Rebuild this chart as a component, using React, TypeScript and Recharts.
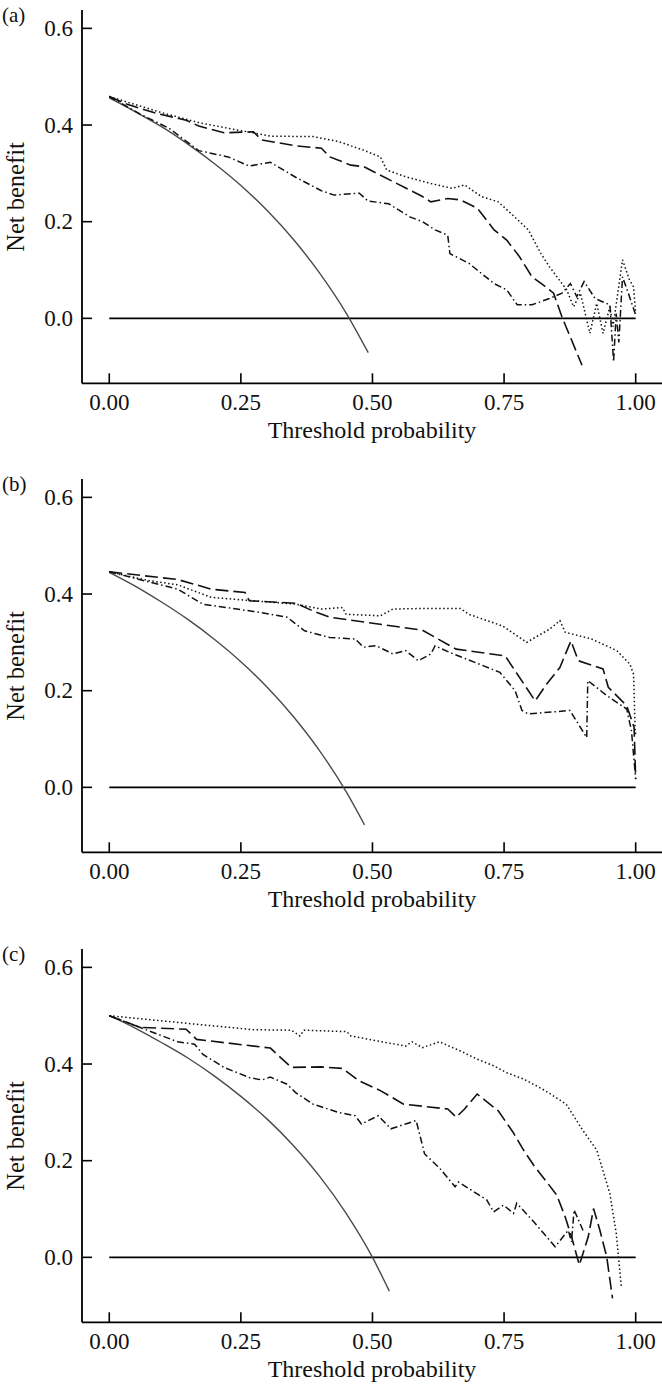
import React from 'react';
import { LineChart, Line, XAxis, YAxis } from 'recharts';

type Pt = [number, number];

const FONT = '"Liberation Serif", "Times New Roman", serif';
const W = 662;
const H = 469;
const PANEL_TOPS = [0, 469, 939];
const X_TICKS = [0, 0.25, 0.5, 0.75, 1];
const Y_TICKS = [0, 0.2, 0.4, 0.6];
const PANEL_LABELS = ['(a)', '(b)', '(c)'];

// treat none, shared by every panel
const treatNone: Pt[] = [[0, 0], [1, 0]];

// panel (a)
const aTreatAll: Pt[] = [
  [0, 0.456], [0.05, 0.427], [0.1, 0.396], [0.15, 0.36], [0.2, 0.32], [0.25, 0.275],
  [0.3, 0.223], [0.35, 0.163], [0.4, 0.093], [0.45, 0.011], [0.492, -0.071],
];
const aDashed: Pt[] = [
  [0, 0.459], [0.034, 0.443], [0.09, 0.424], [0.146, 0.41], [0.17, 0.398], [0.218, 0.384],
  [0.274, 0.386], [0.29, 0.369], [0.354, 0.357], [0.403, 0.352], [0.419, 0.334], [0.459, 0.317],
  [0.483, 0.314], [0.539, 0.283], [0.595, 0.252], [0.611, 0.241], [0.643, 0.248], [0.667, 0.245],
  [0.699, 0.228], [0.731, 0.183], [0.755, 0.162], [0.779, 0.128], [0.803, 0.086], [0.828, 0.066],
  [0.844, 0.052], [0.86, 0.003], [0.898, -0.097],
];
const aDotted: Pt[] = [
  [0, 0.459], [0.098, 0.426], [0.17, 0.405], [0.242, 0.39], [0.306, 0.377], [0.387, 0.376],
  [0.435, 0.366], [0.483, 0.348], [0.515, 0.334], [0.527, 0.307], [0.563, 0.293], [0.611, 0.279],
  [0.651, 0.269], [0.675, 0.276], [0.707, 0.252], [0.739, 0.241], [0.763, 0.217], [0.796, 0.183],
  [0.82, 0.134], [0.836, 0.107], [0.86, 0.072], [0.869, 0.059], [0.882, 0.024], [0.895, 0.052],
  [0.913, -0.031], [0.926, 0.031], [0.938, -0.031], [0.951, 0.024], [0.957, -0.017], [0.975, 0.121],
  [0.988, 0.08], [0.996, 0.065], [1, 0.01],
];
const aDashDot: Pt[] = [
  [0, 0.459], [0.058, 0.423], [0.114, 0.393], [0.17, 0.347], [0.226, 0.334], [0.266, 0.315],
  [0.306, 0.323], [0.354, 0.292], [0.403, 0.264], [0.427, 0.255], [0.475, 0.259], [0.491, 0.243],
  [0.531, 0.237], [0.571, 0.21], [0.595, 0.2], [0.619, 0.183], [0.643, 0.172], [0.647, 0.134],
  [0.683, 0.114], [0.699, 0.1], [0.731, 0.072], [0.755, 0.059], [0.775, 0.028], [0.803, 0.028],
  [0.836, 0.041], [0.86, 0.052], [0.876, 0.072], [0.888, 0.045], [0.902, 0.076], [0.923, 0.041],
  [0.951, 0.028], [0.958, -0.09], [0.963, 0.01], [0.968, -0.05], [0.975, 0.086], [0.986, 0.052],
  [1, 0.007],
];

// panel (b)
const bTreatAll: Pt[] = [
  [0, 0.445], [0.05, 0.416], [0.1, 0.383], [0.15, 0.347], [0.2, 0.306], [0.25, 0.26],
  [0.3, 0.207], [0.35, 0.146], [0.4, 0.075], [0.45, -0.009], [0.485, -0.078],
];
const bDashed: Pt[] = [
  [0, 0.446], [0.13, 0.43], [0.194, 0.41], [0.258, 0.403], [0.266, 0.386], [0.354, 0.381],
  [0.387, 0.365], [0.419, 0.352], [0.595, 0.325], [0.659, 0.286], [0.752, 0.272], [0.771, 0.241],
  [0.809, 0.179], [0.831, 0.214], [0.856, 0.248], [0.877, 0.303], [0.891, 0.262], [0.938, 0.245],
  [0.948, 0.207], [0.983, 0.169], [0.997, 0.124], [1, 0.017],
];
const bDotted: Pt[] = [
  [0, 0.446], [0.074, 0.428], [0.13, 0.419], [0.194, 0.393], [0.274, 0.386], [0.354, 0.379],
  [0.403, 0.369], [0.443, 0.372], [0.45, 0.358], [0.515, 0.355], [0.539, 0.369], [0.595, 0.37],
  [0.667, 0.37], [0.683, 0.358], [0.747, 0.334], [0.793, 0.3], [0.836, 0.327], [0.856, 0.345],
  [0.866, 0.321], [0.916, 0.307], [0.964, 0.283], [0.989, 0.255], [0.996, 0.234], [0.999, 0.117],
  [1, 0.11],
];
const bDashDot: Pt[] = [
  [0, 0.446], [0.13, 0.41], [0.178, 0.379], [0.274, 0.364], [0.338, 0.352], [0.371, 0.324],
  [0.419, 0.31], [0.467, 0.307], [0.483, 0.29], [0.507, 0.293], [0.539, 0.276], [0.563, 0.283],
  [0.587, 0.262], [0.611, 0.276], [0.619, 0.293], [0.647, 0.279], [0.742, 0.238], [0.771, 0.2],
  [0.784, 0.159], [0.796, 0.152], [0.875, 0.159], [0.907, 0.103], [0.909, 0.221], [0.945, 0.19],
  [0.983, 0.162], [0.992, 0.117], [1, 0.017],
];

// panel (c)
const cTreatAll: Pt[] = [
  [0, 0.5], [0.05, 0.474], [0.1, 0.444], [0.15, 0.412], [0.2, 0.375], [0.25, 0.333],
  [0.3, 0.286], [0.35, 0.231], [0.4, 0.167], [0.45, 0.091], [0.5, 0], [0.532, -0.07],
];
const cDashed: Pt[] = [
  [0, 0.5], [0.058, 0.476], [0.146, 0.472], [0.166, 0.451], [0.306, 0.433], [0.346, 0.393],
  [0.403, 0.394], [0.443, 0.391], [0.475, 0.365], [0.515, 0.345], [0.559, 0.317], [0.643, 0.307],
  [0.659, 0.29], [0.675, 0.307], [0.699, 0.338], [0.739, 0.303], [0.767, 0.259], [0.787, 0.222],
  [0.806, 0.191], [0.831, 0.156], [0.85, 0.129], [0.866, 0.084], [0.878, 0.043], [0.893, -0.016],
  [0.897, -0.002], [0.91, 0.043], [0.92, 0.101], [0.932, 0.056], [0.945, 0.001], [0.956, -0.085],
];
const cDotted: Pt[] = [
  [0, 0.5], [0.178, 0.481], [0.274, 0.471], [0.346, 0.47], [0.362, 0.458], [0.37, 0.47],
  [0.451, 0.467], [0.459, 0.458], [0.563, 0.437], [0.575, 0.446], [0.595, 0.434], [0.627, 0.446],
  [0.667, 0.427], [0.699, 0.41], [0.731, 0.396], [0.755, 0.382], [0.787, 0.369], [0.828, 0.345],
  [0.868, 0.317], [0.9, 0.262], [0.926, 0.222], [0.951, 0.132], [0.963, 0.05], [0.973, -0.064],
];
const cDashDot: Pt[] = [
  [0, 0.5], [0.13, 0.446], [0.162, 0.441], [0.178, 0.42], [0.218, 0.393], [0.266, 0.372],
  [0.29, 0.367], [0.306, 0.373], [0.338, 0.358], [0.354, 0.341], [0.387, 0.317], [0.435, 0.3],
  [0.467, 0.293], [0.479, 0.276], [0.511, 0.293], [0.535, 0.266], [0.563, 0.276], [0.583, 0.283],
  [0.599, 0.214], [0.628, 0.184], [0.657, 0.146], [0.663, 0.156], [0.717, 0.119], [0.73, 0.094],
  [0.749, 0.108], [0.768, 0.091], [0.774, 0.112], [0.806, 0.074], [0.847, 0.022], [0.872, 0.056],
  [0.878, 0.032], [0.883, 0.098], [0.901, 0.053],
];

const rows = (pts: Pt[]) => pts.map(([x, y]) => ({ x, y }));

function XTick(props: any) {
  const { x, y, payload } = props;
  return (
    <g>
      <line x1={x} x2={x} y1={y} y2={y - 10} stroke="#000" strokeWidth={1.6} />
      <text x={x} y={y + 27} textAnchor="middle" fontFamily={FONT} fontSize={23} fill="#111">
        {Number(payload.value).toFixed(2)}
      </text>
    </g>
  );
}

function YTick(props: any) {
  const { x, y, payload } = props;
  return (
    <g>
      <line x1={x} x2={x + 10} y1={y} y2={y} stroke="#000" strokeWidth={1.6} />
      <text x={x - 9} y={y + 7.5} textAnchor="end" fontFamily={FONT} fontSize={23} fill="#111">
        {Number(payload.value).toFixed(1)}
      </text>
    </g>
  );
}

interface PanelProps {
  label: string;
  top: number;
  treatAll: Pt[];
  dashed: Pt[];
  dotted: Pt[];
  dashDot: Pt[];
}

function Panel({ label, top, treatAll, dashed, dotted, dashDot }: PanelProps) {
  return (
    <div style={{ position: 'absolute', left: 0, top, width: W, height: H }}>
      <LineChart width={W} height={H} margin={{ top: 10, right: 0, left: 0, bottom: 0 }}>
        <XAxis
          type="number"
          dataKey="x"
          domain={[-0.0518, 1.05]}
          ticks={X_TICKS}
          allowDataOverflow
          height={85.7}
          tickSize={0}
          tickMargin={0}
          tickLine={false}
          tick={<XTick />}
          axisLine={{ stroke: '#000', strokeWidth: 1.8 }}
        />
        <YAxis
          type="number"
          domain={[-0.1344, 0.638]}
          ticks={Y_TICKS}
          allowDataOverflow
          width={82}
          tickSize={0}
          tickMargin={0}
          tickLine={false}
          tick={<YTick />}
          axisLine={{ stroke: '#000', strokeWidth: 1.8 }}
        />
        <Line data={rows(treatNone)} dataKey="y" type="linear" stroke="#000" strokeWidth={1.8}
          dot={false} isAnimationActive={false} />
        <Line data={rows(treatAll)} dataKey="y" type="monotone" stroke="#4a4a4a" strokeWidth={1.4}
          dot={false} isAnimationActive={false} />
        <Line data={rows(dotted)} dataKey="y" type="linear" stroke="#111" strokeWidth={1.5}
          strokeDasharray="1.5 2.5" dot={false} isAnimationActive={false} />
        <Line data={rows(dashDot)} dataKey="y" type="linear" stroke="#111" strokeWidth={1.5}
          strokeDasharray="7 3 1.5 3" dot={false} isAnimationActive={false} />
        <Line data={rows(dashed)} dataKey="y" type="linear" stroke="#111" strokeWidth={1.6}
          strokeDasharray="13 5" dot={false} isAnimationActive={false} />
      </LineChart>
      <svg width={W} height={H} style={{ position: 'absolute', left: 0, top: 0, pointerEvents: 'none' }}>
        <text x={2} y={22} fontFamily={FONT} fontSize={21} fill="#111">{label}</text>
        <text transform="translate(24, 197) rotate(-90)" textAnchor="middle" fontFamily={FONT}
          fontSize={24.5} fill="#111">Net benefit</text>
        <text x={372} y={438} textAnchor="middle" fontFamily={FONT} fontSize={24} fill="#111">
          Threshold probability
        </text>
      </svg>
    </div>
  );
}

export default function App() {
  const panels = [
    { treatAll: aTreatAll, dashed: aDashed, dotted: aDotted, dashDot: aDashDot },
    { treatAll: bTreatAll, dashed: bDashed, dotted: bDotted, dashDot: bDashDot },
    { treatAll: cTreatAll, dashed: cDashed, dotted: cDotted, dashDot: cDashDot },
  ];
  return (
    <div style={{ position: 'absolute', left: 0, top: 0, width: W, height: 1384, overflow: 'hidden', background: '#fff' }}>
      {panels.map((p, i) => (
        <Panel key={PANEL_LABELS[i]} label={PANEL_LABELS[i]} top={PANEL_TOPS[i]} {...p} />
      ))}
    </div>
  );
}
